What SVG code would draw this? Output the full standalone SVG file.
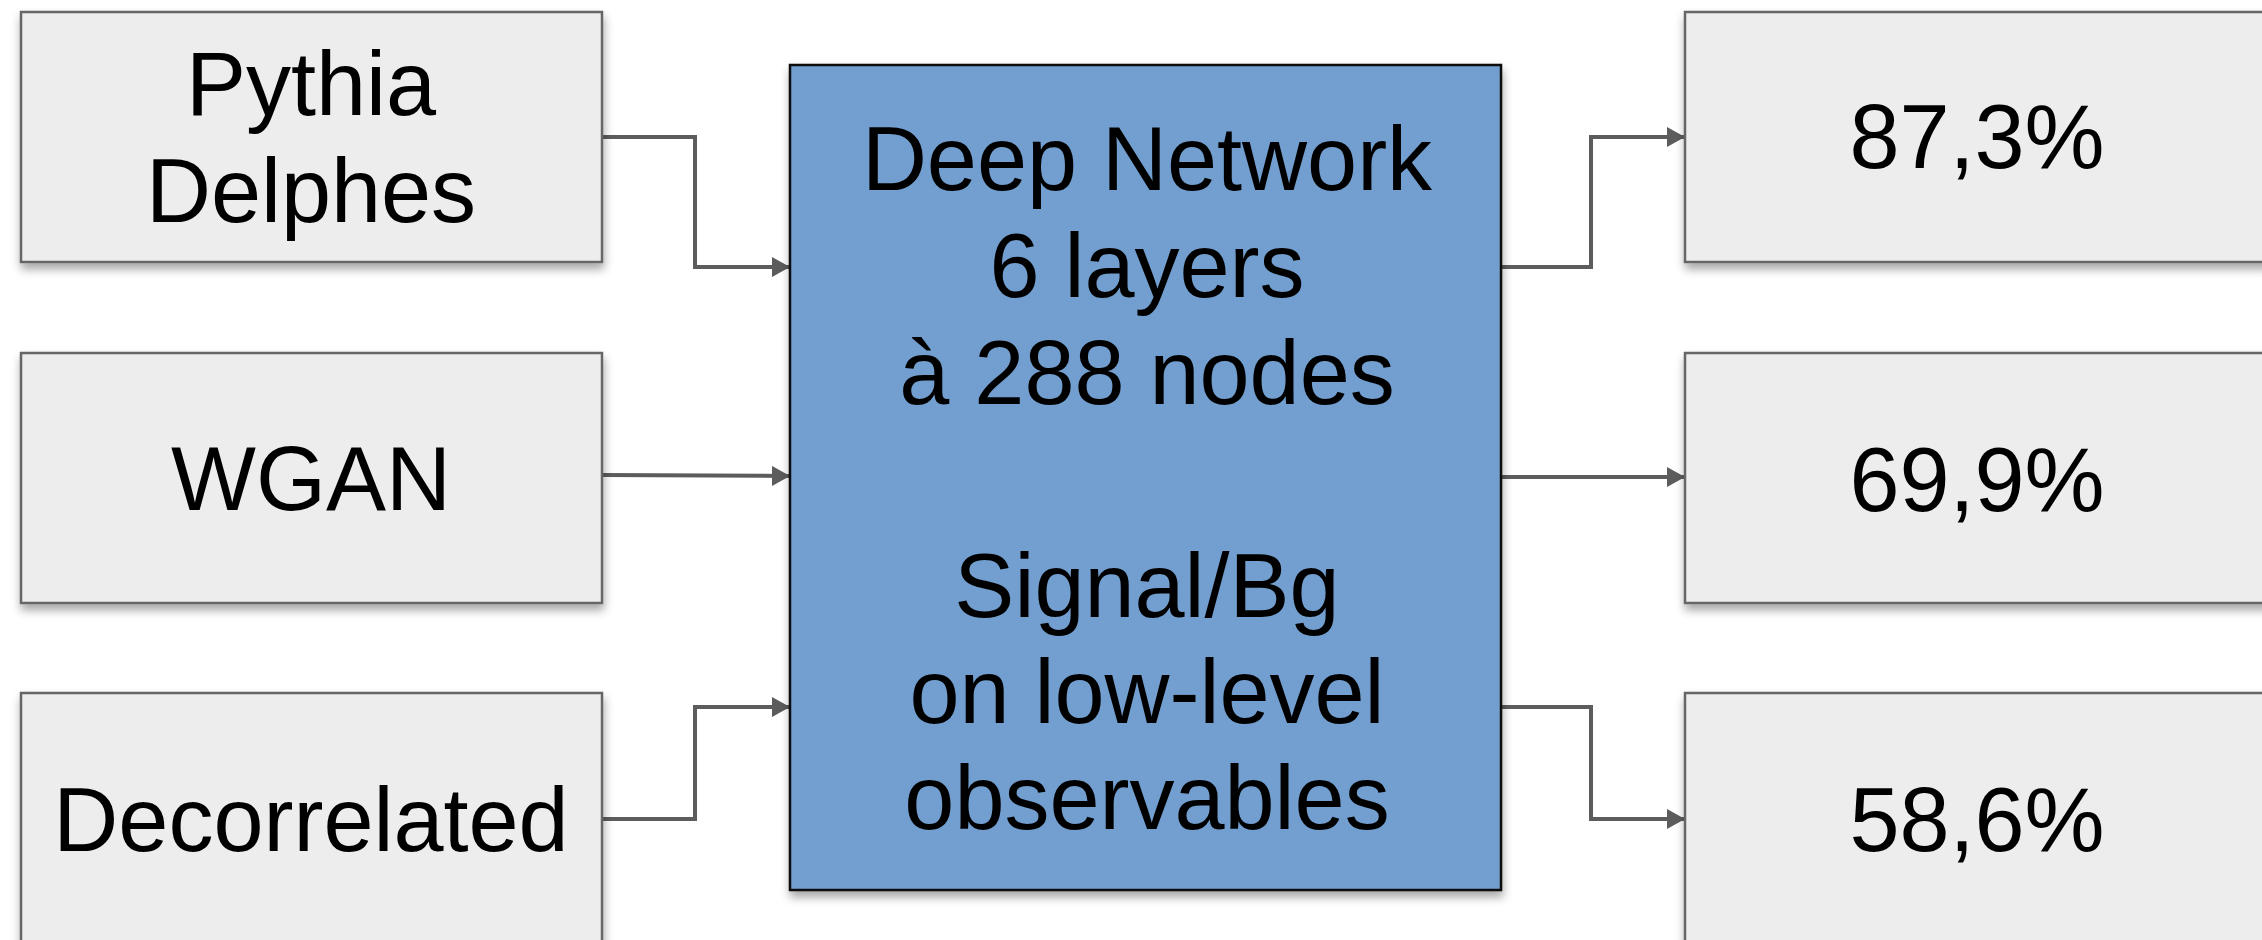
<svg xmlns="http://www.w3.org/2000/svg" width="2262" height="940" viewBox="0 0 2262 940">
  <style>
    .box { fill: #ededed; stroke: #666666; stroke-width: 2.5; filter: url(#shadow); }
    .net { fill: #729fcf; stroke: #111111; stroke-width: 2.5; filter: url(#shadow); }
    .label { font-family: "Liberation Sans", Arial, Helvetica, sans-serif; font-size: 90px; fill: #000000; text-anchor: middle; }
    .wire { fill: none; stroke: #5c5c5c; stroke-width: 4; stroke-linejoin: miter; marker-end: url(#arrow); }
  </style>
  <defs>
    <filter id="shadow" x="-10%" y="-10%" width="120%" height="130%">
      <feDropShadow dx="1" dy="6" stdDeviation="5" flood-color="#000000" flood-opacity="0.35"/>
    </filter>
    <marker id="arrow" markerUnits="userSpaceOnUse" markerWidth="20" markerHeight="22" refX="18" refY="10" orient="auto">
      <path d="M0,0 L18,10 L0,20 Z" fill="#5c5c5c"/>
    </marker>
  </defs>

  <rect width="2262" height="940" fill="#ffffff"/>

  <!-- connectors -->
  <g id="connectors">
    <path class="wire" d="M602,137 H695 V267 H790"/>
    <path class="wire" d="M602,475 L790,476"/>
    <path class="wire" d="M602,819 H695 V707 H790"/>
    <path class="wire" d="M1501,267 H1591 V137 H1685"/>
    <path class="wire" d="M1501,477 H1685"/>
    <path class="wire" d="M1501,707 H1591 V819 H1685"/>
  </g>

  <!-- input samples -->
  <g id="pythia-delphes">
    <rect class="box" x="21" y="12" width="581" height="250"/>
    <text class="label" x="311" y="115">Pythia</text>
    <text class="label" x="311" y="222">Delphes</text>
  </g>
  <g id="wgan">
    <rect class="box" x="21" y="353" width="581" height="250"/>
    <text class="label" x="311" y="510">WGAN</text>
  </g>
  <g id="decorrelated">
    <rect class="box" x="21" y="693" width="581" height="250"/>
    <text class="label" x="311" y="851">Decorrelated</text>
  </g>

  <!-- classifier -->
  <g id="deep-network">
    <rect class="net" x="790" y="65" width="711" height="825"/>
    <text class="label" x="1147" y="190">Deep Network</text>
    <text class="label" x="1147" y="297">6 layers</text>
    <text class="label" x="1147" y="404">à 288 nodes</text>
    <text class="label" x="1147" y="617">Signal/Bg</text>
    <text class="label" x="1147" y="723">on low-level</text>
    <text class="label" x="1147" y="829">observables</text>
  </g>

  <!-- results -->
  <g id="result-pythia">
    <rect class="box" x="1685" y="12" width="584" height="250"/>
    <text class="label" x="1977" y="168">87,3%</text>
  </g>
  <g id="result-wgan">
    <rect class="box" x="1685" y="353" width="584" height="250"/>
    <text class="label" x="1977" y="511">69,9%</text>
  </g>
  <g id="result-decorrelated">
    <rect class="box" x="1685" y="693" width="584" height="250"/>
    <text class="label" x="1977" y="851">58,6%</text>
  </g>
</svg>
